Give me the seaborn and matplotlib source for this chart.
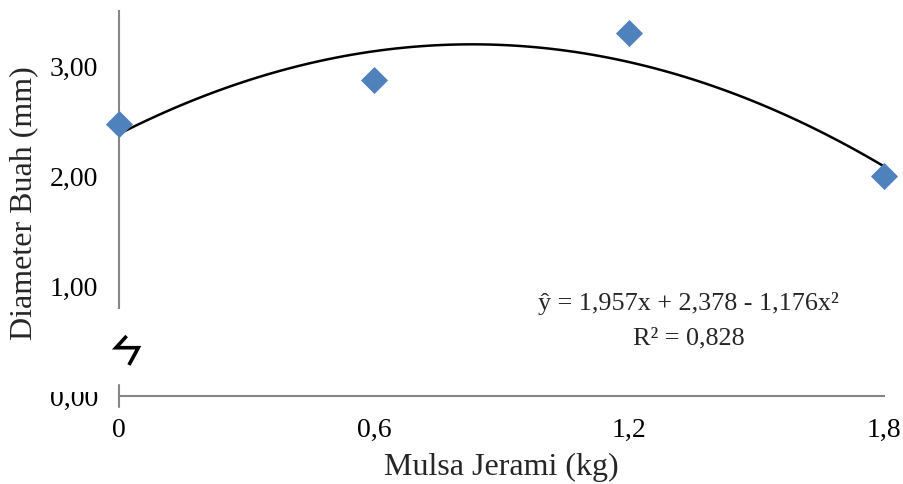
import numpy as np
import pandas as pd
import matplotlib
matplotlib.use("Agg")
import matplotlib.pyplot as plt
from matplotlib.patches import Rectangle
import seaborn as sns

# data
mulsa = [0, 0.6, 1.2, 1.8]
diameter = [2.47, 2.87, 3.30, 2.00]
x_ticks = [0, 0.6, 1.2, 1.8]
x_labels = ["0", "0,6", "1,2", "1,8"]
y_ticks = [0, 1, 2, 3]
y_labels = ["0,00", "1,00", "2,00", "3,00"]
eq_text = "ŷ = 1,957x + 2,378 - 1,176x²"
r2_text = "R² = 0,828"

df = pd.DataFrame({"x": mulsa, "y": diameter})

sns.set_style("white")
plt.rcParams["font.family"] = ["Liberation Serif", "DejaVu Serif"]

axis_grey = "#868686"
blue = "#4F81BD"

fig = plt.figure(figsize=(9.04, 4.84), dpi=100)
ax = fig.add_axes([0.1316, 0.1818, 0.8462, 0.7955])

# trendline (polinom orde 2) + titik data
sns.regplot(data=df, x="x", y="y", order=2, ci=None, scatter=False,
            line_kws={"color": "black", "lw": 1.8}, ax=ax)
sns.scatterplot(data=df, x="x", y="y", marker="D", s=190, color=blue,
                edgecolor=blue, linewidth=0, ax=ax, zorder=3, clip_on=False)

ax.set_xlim(0, 1.8)
ax.set_ylim(0, 3.5)
ax.set_xticks(x_ticks, x_labels)
ax.set_yticks(y_ticks, y_labels)
ax.tick_params(axis="both", labelsize=20, colors=axis_grey, labelcolor="black",
               direction="out", length=7, width=1.3)
ax.tick_params(axis="x", pad=9)
ax.tick_params(axis="y", pad=8)

for s in ["top", "right"]:
    ax.spines[s].set_visible(False)
for s in ["left", "bottom"]:
    ax.spines[s].set_color(axis_grey)
    ax.spines[s].set_linewidth(1.5)
ax.spines["left"].set_bounds(0.8, 3.5)

# tanda patah sumbu
ax.plot([0, 0], [-0.1, 0.1], color=axis_grey, lw=1.5, clip_on=False)
bolt_x = [0.018, -0.007, 0.0454, 0.0235]
bolt_y = [0.545, 0.439, 0.439, 0.282]
ax.plot(bolt_x, bolt_y, color="black", lw=2.6, solid_joinstyle="miter",
        solid_capstyle="butt", clip_on=False)

# label 0,00 terpotong di bagian atas
fig.patches.append(Rectangle((40, 92), 68, 16, transform=None,
                             facecolor="white", edgecolor="none", zorder=10))

ax.set_xlabel("Mulsa Jerami (kg)", fontsize=23, labelpad=7)
ax.set_ylabel("Diameter Buah (mm)", fontsize=23, labelpad=8)

ax.text(1.34, 0.845, eq_text, fontsize=18.8, ha="center", va="center")
ax.text(1.34, 0.527, r2_text, fontsize=18.8, ha="center", va="center")

fig.savefig("out.png", dpi=100)
